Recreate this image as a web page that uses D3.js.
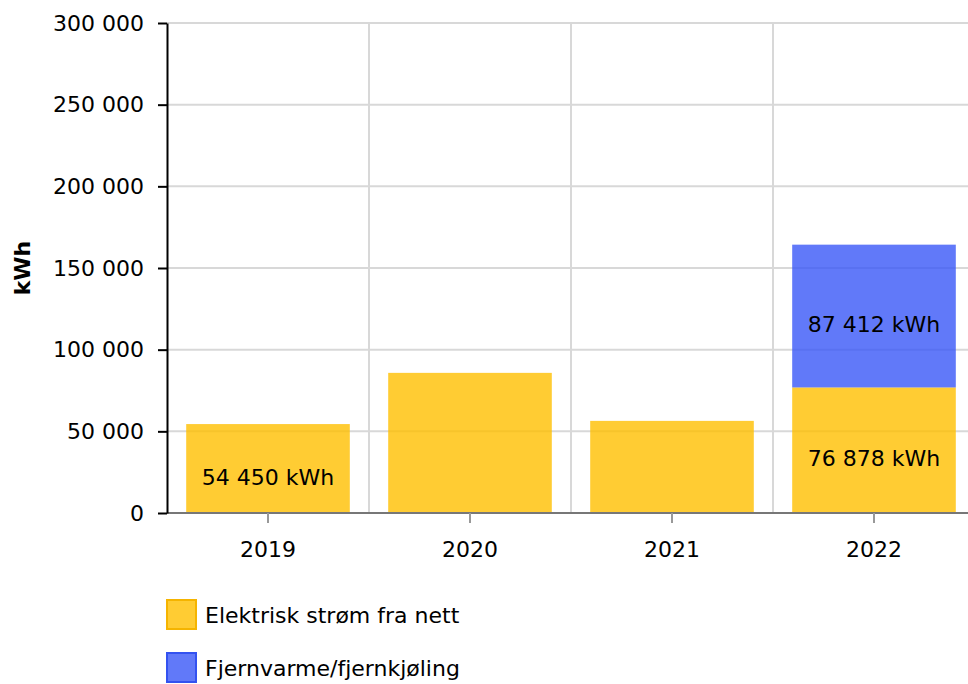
<!DOCTYPE html>
<html>
<head>
<meta charset="utf-8">
<script src="https://cdn.jsdelivr.net/npm/d3@7"></script>
<style>
  body { margin: 0; background: #fff; }
  text { font-family: "DejaVu Sans", Verdana, sans-serif; }
</style>
</head>
<body>
<div id="chart"></div>
<script>
const years = ["2019", "2020", "2021", "2022"];
const seriesNames = ["Elektrisk strøm fra nett", "Fjernvarme/fjernkjøling"];
const elektrisk = [54450, 85800, 56400, 76878];
const fjernvarme = [0, 0, 0, 87412];
const labelled = [[true, false, false, true], [false, false, false, true]];
const yTicks = [0, 50000, 100000, 150000, 200000, 250000, 300000];

const colors = ["#ffbf00", "#3a57f7"];
const strokes = ["#f5b400", "#3352f0"];

const W = 968, H = 684;
const m = { left: 167, right: 975, top: 23, bottom: 513 };
const fs = "22px";

const svg = d3.select("#chart").append("svg")
  .attr("width", W).attr("height", H);

const x = d3.scaleBand().domain(years).range([m.left, m.right])
  .paddingInner(0.19).paddingOuter(0.095);
const y = d3.scaleLinear().domain([0, 300000]).range([m.bottom, m.top]);
const fmt = v => d3.format(",")(v).replace(/,/g, " ");

// gridlines
svg.append("g").selectAll("line")
  .data(yTicks.slice(1))
  .enter().append("line")
  .attr("x1", m.left).attr("x2", W)
  .attr("y1", d => y(d)).attr("y2", d => y(d))
  .attr("stroke", "#d8d8d8").attr("stroke-width", 2);

svg.append("g").selectAll("line")
  .data(years.slice(1))
  .enter().append("line")
  .attr("x1", d => x(d) - x.step() * 0.095).attr("x2", d => x(d) - x.step() * 0.095)
  .attr("y1", m.top).attr("y2", m.bottom)
  .attr("stroke", "#d8d8d8").attr("stroke-width", 2);

// stacked data
const rows = years.map((yr, i) => ({ year: yr, a: elektrisk[i], b: fjernvarme[i] }));
const stack = d3.stack().keys(["a", "b"])(rows);

const layers = svg.append("g").selectAll("g.layer")
  .data(stack)
  .enter().append("g")
  .attr("fill", (d, k) => colors[k])
  .attr("fill-opacity", 0.8);

layers.selectAll("rect")
  .data(d => d.filter(p => p[1] > p[0]))
  .enter().append("rect")
  .attr("x", d => x(d.data.year))
  .attr("width", x.bandwidth())
  .attr("y", d => y(d[1]))
  .attr("height", d => y(d[0]) - y(d[1]));

// value labels
stack.forEach((layer, k) => {
  svg.append("g").selectAll("text")
    .data(layer.filter((p, i) => labelled[k][i] && p[1] > p[0]))
    .enter().append("text")
    .attr("x", d => x(d.data.year) + x.bandwidth() / 2)
    .attr("y", d => (y(d[0]) + y(d[1])) / 2 + 16)
    .attr("text-anchor", "middle")
    .attr("font-size", fs)
    .attr("fill", "#000")
    .text(d => fmt(d[1] - d[0]) + " kWh");
});

// x axis
const xAxis = svg.append("g")
  .attr("transform", `translate(0,${m.bottom})`)
  .call(d3.axisBottom(x).tickSize(10).tickPadding(18));
xAxis.select(".domain").attr("stroke", "#777").attr("stroke-width", 2)
  .attr("d", `M${m.left},0H${W}`);
xAxis.selectAll(".tick line").attr("stroke", "#999").attr("stroke-width", 2);
xAxis.selectAll(".tick text").attr("font-size", fs).attr("fill", "#000")
  .style("font-family", "DejaVu Sans, Verdana, sans-serif");

// y axis
const yAxis = svg.append("g")
  .attr("transform", `translate(${m.left},0)`)
  .call(d3.axisLeft(y).tickValues(yTicks).tickFormat(fmt).tickSize(9).tickPadding(14).tickSizeOuter(0));
yAxis.select(".domain").attr("stroke", "#000").attr("stroke-width", 2);
yAxis.selectAll(".tick line").attr("stroke", "#000").attr("stroke-width", 2);
yAxis.selectAll(".tick text").attr("font-size", fs).attr("fill", "#000")
  .style("font-family", "DejaVu Sans, Verdana, sans-serif");

svg.append("text")
  .attr("transform", `translate(30,${(m.top + m.bottom) / 2}) rotate(-90)`)
  .attr("text-anchor", "middle")
  .attr("font-size", fs)
  .attr("font-weight", "bold")
  .text("kWh");

// legend
const legend = svg.selectAll(".legend")
  .data(seriesNames)
  .enter().append("g")
  .attr("class", "legend")
  .attr("transform", (d, i) => `translate(167,${600 + i * 53})`);

legend.append("rect")
  .attr("width", 29).attr("height", 29)
  .attr("fill", (d, i) => colors[i]).attr("fill-opacity", 0.8)
  .attr("stroke", (d, i) => strokes[i]).attr("stroke-width", 2);

legend.append("text")
  .attr("x", 38).attr("y", 23)
  .attr("font-size", fs)
  .text(d => d);
</script>
</body>
</html>
